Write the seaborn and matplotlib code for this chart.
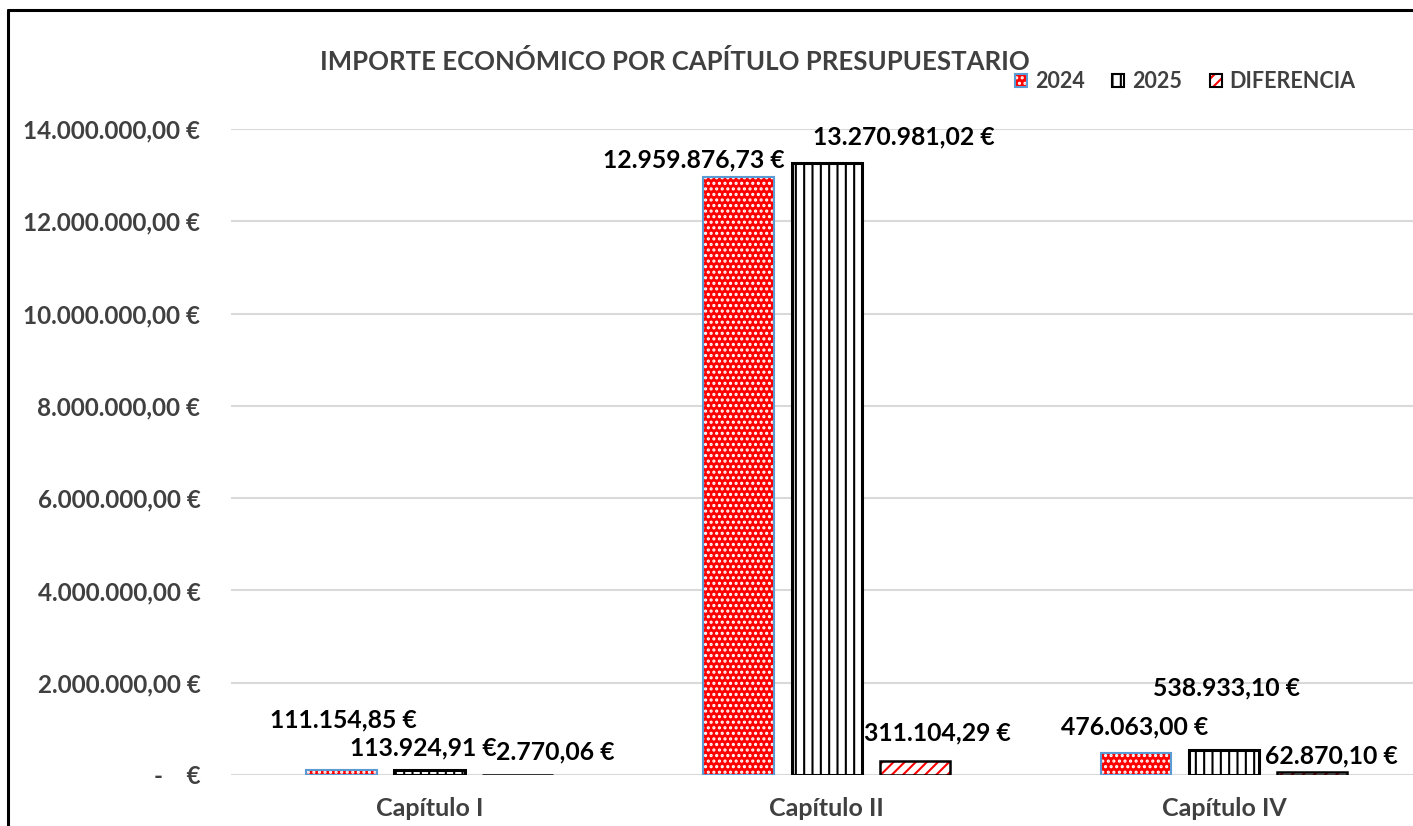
import numpy as np
import pandas as pd
import matplotlib
matplotlib.use("Agg")
import matplotlib.pyplot as plt
import seaborn as sns
from matplotlib.patches import Patch, Rectangle
from matplotlib.lines import Line2D
from matplotlib.legend_handler import HandlerTuple
from matplotlib.ticker import FuncFormatter

# ======================
# DATA
# ======================
categorias = ["Capítulo I", "Capítulo II", "Capítulo IV"]
series = ["2024", "2025", "DIFERENCIA"]
importe_2024 = [111154.85, 12959876.73, 476063.00]
importe_2025 = [113924.91, 13270981.02, 538933.10]
diferencia = [2770.06, 311104.29, 62870.10]
y_ticks = [0, 2e6, 4e6, 6e6, 8e6, 10e6, 12e6, 14e6]
titulo = "IMPORTE ECONÓMICO POR CAPÍTULO PRESUPUESTARIO"

# label offsets (pixels) from the top of each bar, per serie / capitulo
label_offsets = {
    "2024": [(2, 50), (-45, 17), (-1, 26)],
    "2025": [(-6, 22), (77, 26), (3, 62)],
    "DIFERENCIA": [(38, 23), (23, 28), (19, 16)],
}

df = pd.DataFrame({
    "capitulo": categorias * 3,
    "serie": [s for s in series for _ in categorias],
    "importe": importe_2024 + importe_2025 + diferencia,
})

# ======================
# STYLE
# ======================
sns.set_style("white")
plt.rcParams["font.family"] = ["Lato", "DejaVu Sans"]
plt.rcParams["font.weight"] = "bold"
plt.rcParams["hatch.linewidth"] = 1.5

GRAY = "#404040"
RED = "#FF0000"
BLUE = "#5B9BD5"


def eur(v):
    if v == 0:
        return "-    €"
    s = f"{v:,.2f}".replace(",", "X").replace(".", ",").replace("X", ".")
    return s + " €"


fig = plt.figure(figsize=(14.13, 8.26), dpi=100)
ax = fig.add_axes([231 / 1413, 51 / 826, (1422.5 - 231) / 1413, (775 - 129) / 826])

sns.barplot(data=df, x="capitulo", y="importe", hue="serie", order=categorias,
            hue_order=series, width=0.665, gap=0.2, ax=ax, legend=False)

# hatch + outline per serie
styles = {
    "2024": dict(face=RED, hatch="...", hcolor="white", edge=BLUE, lw=1.5),
    "2025": dict(face="white", hatch="||", hcolor="black", edge="black", lw=2.2),
    "DIFERENCIA": dict(face="white", hatch="///", hcolor=RED, edge="black", lw=1.8),
}

for serie, cont in zip(series, ax.containers):
    st = styles[serie]
    for i, bar in enumerate(cont):
        bar.set_facecolor(st["face"])
        bar.set_edgecolor(st["hcolor"])
        bar.set_hatch(st["hatch"])
        bar.set_linewidth(0)
        ax.add_patch(Rectangle((bar.get_x(), bar.get_y()), bar.get_width(), bar.get_height(),
                               fill=False, edgecolor=st["edge"], linewidth=st["lw"], zorder=3))
        dx, dy = label_offsets[serie][i]
        ax.annotate(eur(bar.get_height()),
                    xy=(bar.get_x() + bar.get_width() / 2, bar.get_height()),
                    xytext=(dx, dy), textcoords="offset pixels",
                    ha="center", va="center", fontsize=17.8, fontweight="bold",
                    color="black", annotation_clip=False)

ax.set_ylim(0, 14e6)
ax.set_xlim(-0.5, 2.5)
ax.set_yticks(y_ticks)
ax.yaxis.set_major_formatter(FuncFormatter(lambda v, p: eur(v)))
ax.grid(axis="y", color="#D9D9D9", linewidth=1.5)
ax.set_axisbelow(True)
for sp in ax.spines.values():
    sp.set_visible(False)
ax.tick_params(axis="y", length=0, pad=22, labelsize=17.5, labelcolor=GRAY)
ax.tick_params(axis="x", length=0, pad=16, labelsize=18, labelcolor=GRAY)
ax.set_xlabel("")
ax.set_ylabel("")

fig.text(675 / 1413, 1 - 62 / 826, titulo, ha="center", va="center",
         fontsize=18.5, fontweight="bold", color=GRAY)

# legend
handles = []
for serie in series:
    st = styles[serie]
    handles.append((Patch(facecolor=st["face"], edgecolor=st["hcolor"], hatch=st["hatch"], linewidth=0),
                    Patch(fill=False, edgecolor=st["edge"], linewidth=1.5)))
fig.legend(handles, series, handler_map={tuple: HandlerTuple(ndivide=1)},
           loc="center left", bbox_to_anchor=(996 / 1413, 1 - 82 / 826), ncol=3,
           frameon=False, fontsize=15.5, labelcolor=GRAY, handlelength=0.55,
           handleheight=0.55, handletextpad=0.35, columnspacing=1.3)

# outer border (left + top)
fig.add_artist(Line2D([7.5 / 1413, 7.5 / 1413], [0, 1 - 10 / 826], color="black", linewidth=2.2))
fig.add_artist(Line2D([7.5 / 1413, 1], [1 - 10 / 826, 1 - 10 / 826], color="black", linewidth=2.2))

fig.savefig("out.png", dpi=100)
